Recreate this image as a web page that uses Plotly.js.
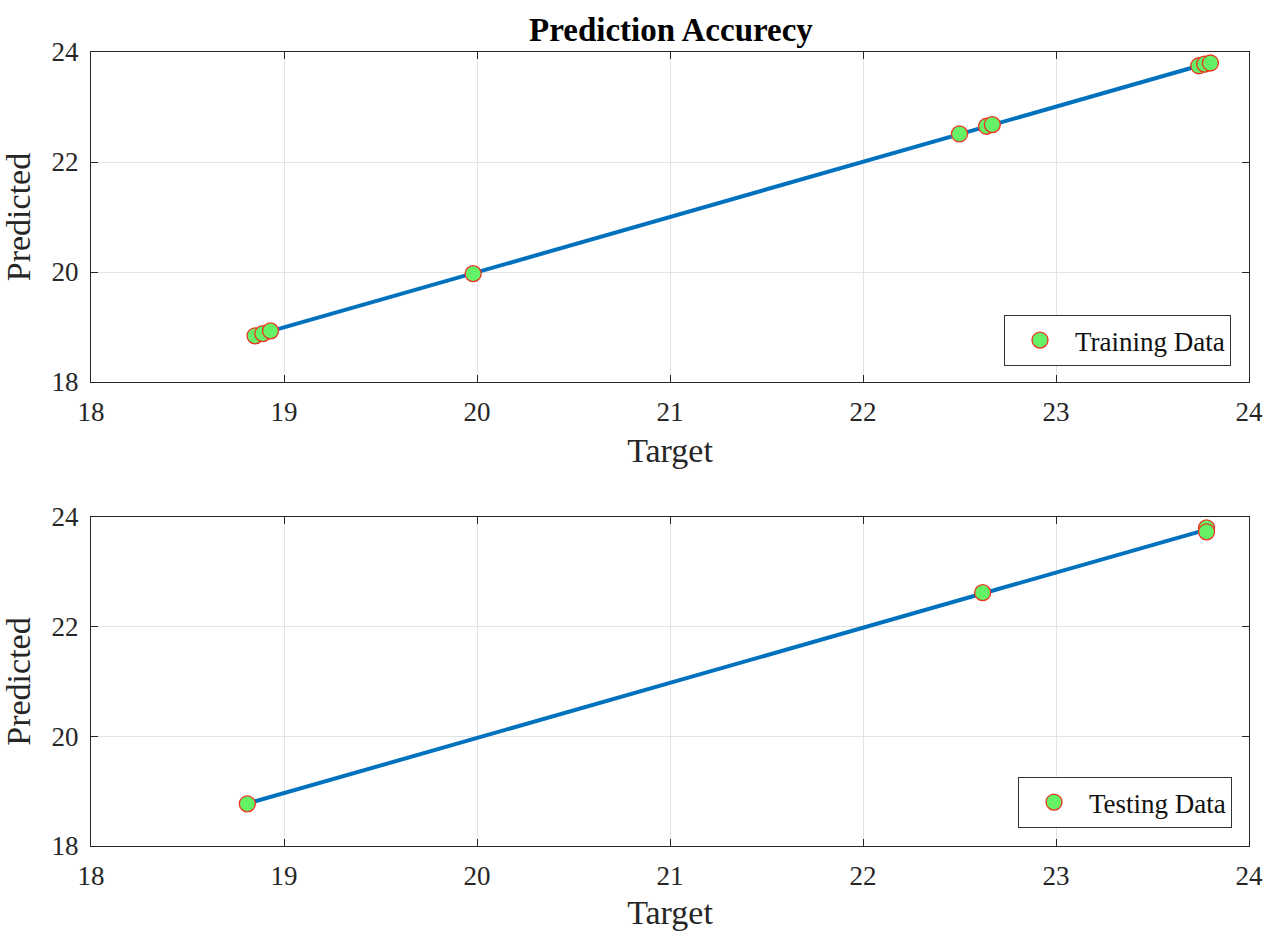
<!DOCTYPE html>
<html>
<head>
<meta charset="utf-8">
<script src="https://cdn.plot.ly/plotly-3.0.1.min.js"></script>
<style>html,body{margin:0;padding:0;background:#fff;}#chart{width:1266px;height:931px;}</style>
</head>
<body>
<div id="chart"></div>
<script>
const trainTarget = [18.85, 18.89, 18.93, 19.98, 22.50, 22.64, 22.67, 23.74, 23.77, 23.80];
const trainPred   = [18.84, 18.88, 18.93, 19.97, 22.51, 22.65, 22.68, 23.75, 23.78, 23.80];
const testTarget  = [18.81, 22.62, 23.78, 23.78];
const testPred    = [18.77, 22.62, 23.80, 23.73];
const xTicks = [18, 19, 20, 21, 22, 23, 24];
const yTicks = [18, 20, 22, 24];

function fitLine(x, y) {
  const n = x.length;
  const mx = x.reduce((a, b) => a + b, 0) / n;
  const my = y.reduce((a, b) => a + b, 0) / n;
  let sxy = 0, sxx = 0;
  for (let i = 0; i < n; i++) { sxy += (x[i] - mx) * (y[i] - my); sxx += (x[i] - mx) ** 2; }
  const b = sxy / sxx, a = my - b * mx;
  const x0 = Math.min(...x), x1 = Math.max(...x);
  return { x: [x0, x1], y: [a + b * x0, a + b * x1] };
}

const font = 'Liberation Serif, Times New Roman, serif';
const axCol = '#262626';
const markerStyle = { size: 16, color: '#66F266', line: { color: '#EE3322', width: 1.3 } };
const lineStyle = { color: '#0072BD', width: 4 };

const f1 = fitLine(trainTarget, trainPred);
const f2 = fitLine(testTarget, testPred);

const traces = [
  { x: f1.x, y: f1.y, type: 'scatter', mode: 'lines', line: lineStyle, showlegend: false, xaxis: 'x', yaxis: 'y' },
  { x: trainTarget, y: trainPred, type: 'scatter', mode: 'markers', name: 'Training Data', marker: markerStyle, xaxis: 'x', yaxis: 'y', legend: 'legend' },
  { x: f2.x, y: f2.y, type: 'scatter', mode: 'lines', line: lineStyle, showlegend: false, xaxis: 'x2', yaxis: 'y2' },
  { x: testTarget, y: testPred, type: 'scatter', mode: 'markers', name: 'Testing Data', marker: markerStyle, xaxis: 'x2', yaxis: 'y2', legend: 'legend2' }
];

function xAx(anchor) {
  return {
    domain: [91/1266, 1249/1266], anchor: anchor, range: [18, 24], tickvals: xTicks,
    ticks: 'inside', ticklen: 7, tickcolor: axCol, mirror: 'ticks', showline: true, linecolor: axCol, linewidth: 1,
    showgrid: true, gridcolor: '#e3e3e3', zeroline: false, automargin: false,
    tickfont: { family: font, size: 27, color: axCol }, ticklabelstandoff: 6,
    title: { text: 'Target', font: { family: font, size: 34, color: axCol }, standoff: 11 }
  };
}
function yAx(anchor, dom) {
  return {
    domain: dom, anchor: anchor, range: [18, 24], tickvals: yTicks,
    ticks: 'inside', ticklen: 7, tickcolor: axCol, mirror: 'ticks', showline: true, linecolor: axCol, linewidth: 1,
    showgrid: true, gridcolor: '#e3e3e3', zeroline: false, automargin: false,
    tickfont: { family: font, size: 27, color: axCol }, ticklabelstandoff: 6,
    title: { text: 'Predicted', font: { family: font, size: 34, color: axCol }, standoff: 14 }
  };
}

const legendBase = {
  xanchor: 'right', yanchor: 'bottom', bgcolor: '#fff', bordercolor: '#333', borderwidth: 1,
  font: { family: font, size: 27, color: '#111' }, itemwidth: 60
};

const layout = {
  width: 1266, height: 931,
  margin: { l: 0, r: 0, t: 0, b: 0 },
  paper_bgcolor: '#fff', plot_bgcolor: '#fff',
  title: { text: '<b>Prediction Accurecy</b>', font: { family: font, size: 33, color: '#000' }, x: 0.530, xanchor: 'center', y: 0.968, yanchor: 'middle' },
  xaxis: xAx('y'),
  yaxis: yAx('x', [(931-382)/931, (931-52)/931]),
  xaxis2: xAx('y2'),
  yaxis2: yAx('x2', [(931-846)/931, (931-517)/931]),
  legend: Object.assign({}, legendBase, { x: 1231/1266, y: (931-366)/931 }),
  legend2: Object.assign({}, legendBase, { x: 1232/1266, y: (931-828)/931 }),
  showlegend: true
};

Plotly.newPlot('chart', traces, layout, { displayModeBar: false, staticPlot: true });
</script>
</body>
</html>
